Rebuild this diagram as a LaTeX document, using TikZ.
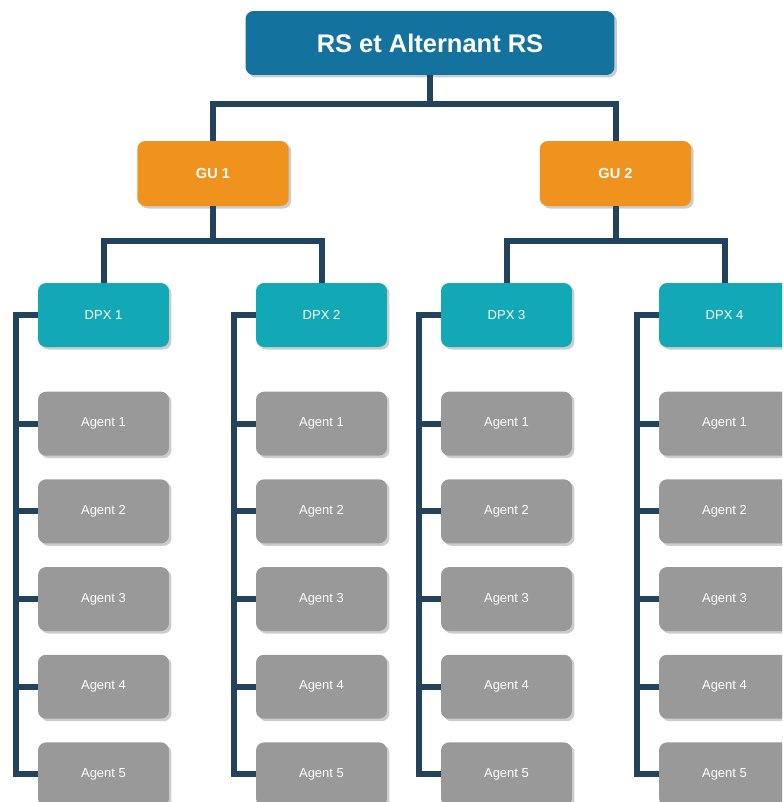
\documentclass[tikz,border=0pt]{standalone}
\usepackage{fontspec}
\setmainfont{Liberation Sans}
\usetikzlibrary{positioning,shadows}

\definecolor{rsblue}{RGB}{19,114,158}
\definecolor{guorange}{RGB}{240,147,30}
\definecolor{dpxteal}{RGB}{19,168,181}
\definecolor{agentgray}{RGB}{153,153,153}
\definecolor{linknavy}{RGB}{35,67,92}

\begin{document}
\begin{tikzpicture}[
    x=0.02cm, y=-0.02cm,
    node distance=0.46cm,
    box/.style={rounded corners=0.16cm, text=white, align=center, minimum height=1.28cm, drop shadow={shadow xshift=0.05cm, shadow yshift=-0.05cm, fill=black!40, opacity=0.5}},
    head/.style={box, fill=rsblue, minimum width=7.38cm, font=\fontsize{14.5}{17}\selectfont\bfseries},
    gu/.style={box, fill=guorange, minimum width=3.03cm, minimum height=1.3cm, font=\fontsize{8.3}{10}\selectfont\bfseries},
    dpx/.style={box, fill=dpxteal, minimum width=2.62cm, font=\fontsize{7.4}{9}\selectfont},
    agent/.style={box, fill=agentgray, minimum width=2.62cm, font=\fontsize{7.4}{9}\selectfont},
    link/.style={draw=linknavy, line width=0.12cm}
]
\useasboundingbox (0,0) rectangle (782,802);
\clip (0,0) rectangle (782,802);

% top levels
\node[head] (rs) at (430,43) {RS et Alternant RS};
\node[gu] (gu1) at (213,173.5) {GU 1};
\node[gu] (gu2) at (615.5,173.5) {GU 2};
\node[dpx] (dpx1) at (103.5,315) {DPX 1};
\node[dpx] (dpx2) at (321.5,315) {DPX 2};
\node[dpx] (dpx3) at (506.5,315) {DPX 3};
\node[dpx] (dpx4) at (724.5,315) {DPX 4};

% agents
\node[agent, below=0.88cm of dpx1] (ag11) {Agent 1};
\node[agent, below=of ag11] (ag12) {Agent 2};
\node[agent, below=of ag12] (ag13) {Agent 3};
\node[agent, below=of ag13] (ag14) {Agent 4};
\node[agent, below=of ag14] (ag15) {Agent 5};
\node[agent, below=0.88cm of dpx2] (ag21) {Agent 1};
\node[agent, below=of ag21] (ag22) {Agent 2};
\node[agent, below=of ag22] (ag23) {Agent 3};
\node[agent, below=of ag23] (ag24) {Agent 4};
\node[agent, below=of ag24] (ag25) {Agent 5};
\node[agent, below=0.88cm of dpx3] (ag31) {Agent 1};
\node[agent, below=of ag31] (ag32) {Agent 2};
\node[agent, below=of ag32] (ag33) {Agent 3};
\node[agent, below=of ag33] (ag34) {Agent 4};
\node[agent, below=of ag34] (ag35) {Agent 5};
\node[agent, below=0.88cm of dpx4] (ag41) {Agent 1};
\node[agent, below=of ag41] (ag42) {Agent 2};
\node[agent, below=of ag42] (ag43) {Agent 3};
\node[agent, below=of ag43] (ag44) {Agent 4};
\node[agent, below=of ag44] (ag45) {Agent 5};

% tree links
\draw[link] (rs.south) -- ++(0,29) -| (gu1.north);
\draw[link] (rs.south) -- ++(0,29) -| (gu2.north);
\draw[link] (gu1.south) -- ++(0,35) -| (dpx1.north);
\draw[link] (gu1.south) -- ++(0,35) -| (dpx2.north);
\draw[link] (gu2.south) -- ++(0,35) -| (dpx3.north);
\draw[link] (gu2.south) -- ++(0,35) -| (dpx4.north);

% rails
\draw[link] (dpx1.west) -- ++(-22,0) |- (ag15.west);
\draw[link] (ag11.west) -- ++(-22,0);
\draw[link] (ag12.west) -- ++(-22,0);
\draw[link] (ag13.west) -- ++(-22,0);
\draw[link] (ag14.west) -- ++(-22,0);
\draw[link] (dpx2.west) -- ++(-22,0) |- (ag25.west);
\draw[link] (ag21.west) -- ++(-22,0);
\draw[link] (ag22.west) -- ++(-22,0);
\draw[link] (ag23.west) -- ++(-22,0);
\draw[link] (ag24.west) -- ++(-22,0);
\draw[link] (dpx3.west) -- ++(-22,0) |- (ag35.west);
\draw[link] (ag31.west) -- ++(-22,0);
\draw[link] (ag32.west) -- ++(-22,0);
\draw[link] (ag33.west) -- ++(-22,0);
\draw[link] (ag34.west) -- ++(-22,0);
\draw[link] (dpx4.west) -- ++(-22,0) |- (ag45.west);
\draw[link] (ag41.west) -- ++(-22,0);
\draw[link] (ag42.west) -- ++(-22,0);
\draw[link] (ag43.west) -- ++(-22,0);
\draw[link] (ag44.west) -- ++(-22,0);
\end{tikzpicture}
\end{document}
